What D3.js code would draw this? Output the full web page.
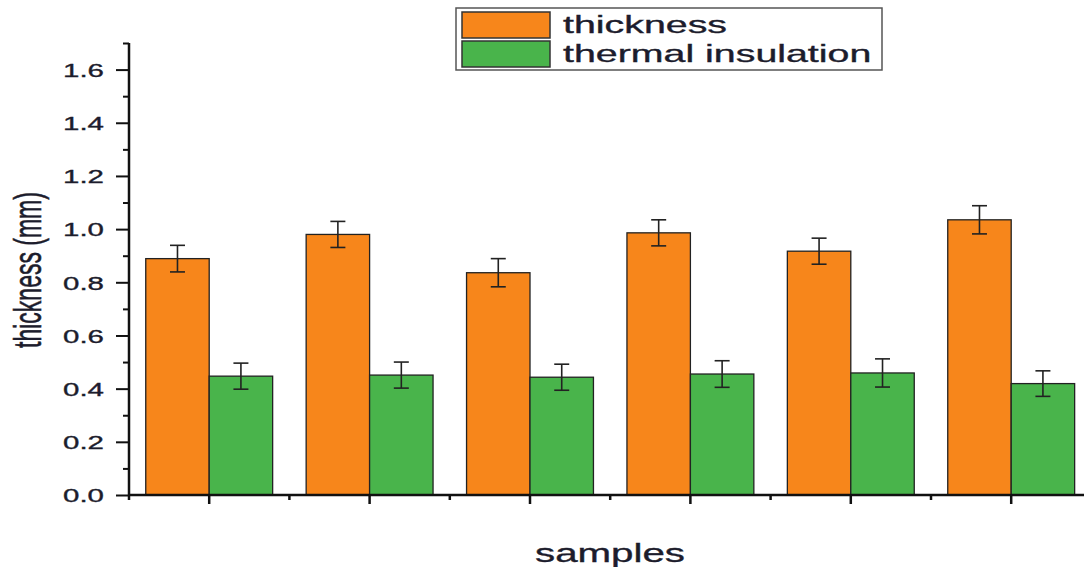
<!DOCTYPE html>
<html>
<head>
<meta charset="utf-8">
<script src="https://cdn.jsdelivr.net/npm/d3@7"></script>
<style>
  body { margin: 0; background: #fff; }
  text { font-family: "Liberation Sans", Arial, sans-serif; stroke: #1c1c2c; stroke-width: 0.35px; }
</style>
</head>
<body>
<div id="chart"></div>
<script>
// values
const samples = ["S1", "S2", "S3", "S4", "S5", "S6"];
const series = ["thickness", "thermal insulation"];
const thickness = [0.889, 0.980, 0.836, 0.986, 0.917, 1.035];
const thicknessErr = [0.050, 0.049, 0.053, 0.049, 0.049, 0.053];
const insulation = [0.447, 0.451, 0.443, 0.455, 0.459, 0.419];
const insulationErr = [0.049, 0.049, 0.049, 0.050, 0.053, 0.048];
const yMajor = [0, 0.2, 0.4, 0.6, 0.8, 1.0, 1.2, 1.4, 1.6];
const yMinor = [0.1, 0.3, 0.5, 0.7, 0.9, 1.1, 1.3, 1.5, 1.7];

const width = 1084, height = 567;
const margins = { top: 43, bottom: 72, left: 129, right: 0 };
const sx = 1.6; // the picture is stretched sideways
const colors = ["#f7861b", "#49b44b"];
const ink = "#1c1c2c";

const svg = d3.select("#chart").append("svg")
  .attr("width", width)
  .attr("height", height);

const yScale = d3.scaleLinear()
  .domain([0, 1.7])
  .range([height - margins.bottom, margins.top]);

const xScale = d3.scaleBand()
  .domain(samples)
  .range([margins.left, margins.left + 6 * 160.4])
  .paddingInner(0);

const inner = d3.scaleBand()
  .domain(series)
  .range([0, xScale.bandwidth()])
  .paddingInner(0)
  .paddingOuter(0.264);

const colorScale = d3.scaleOrdinal().domain(series).range(colors);

const rows = [];
samples.forEach((s, i) => {
  rows.push({ sample: s, key: series[0], v: thickness[i], e: thicknessErr[i] });
  rows.push({ sample: s, key: series[1], v: insulation[i], e: insulationErr[i] });
});

// bars
svg.append("g")
  .selectAll("rect")
  .data(rows)
  .join("rect")
  .attr("x", d => xScale(d.sample) + inner(d.key))
  .attr("y", d => yScale(d.v))
  .attr("width", inner.bandwidth())
  .attr("height", d => yScale(0) - yScale(d.v))
  .attr("fill", d => colorScale(d.key))
  .attr("stroke", "#222")
  .attr("stroke-width", 1.3);

// error bars
const err = svg.append("g")
  .attr("stroke", "#222")
  .attr("stroke-width", 1.6)
  .selectAll("g")
  .data(rows)
  .join("g")
  .attr("transform", d => `translate(${xScale(d.sample) + inner(d.key) + inner.bandwidth() / 2},0)`);

err.append("line")
  .attr("y1", d => yScale(d.v + d.e))
  .attr("y2", d => yScale(d.v - d.e));
err.append("line")
  .attr("x1", -7.5).attr("x2", 7.5)
  .attr("y1", d => yScale(d.v + d.e))
  .attr("y2", d => yScale(d.v + d.e));
err.append("line")
  .attr("x1", -7.5).attr("x2", 7.5)
  .attr("y1", d => yScale(d.v - d.e))
  .attr("y2", d => yScale(d.v - d.e));

// y axis
const yAxis = svg.append("g")
  .attr("transform", `translate(${margins.left},0)`)
  .call(d3.axisLeft(yScale).tickValues(yMajor).tickSize(13).tickFormat(d3.format(".1f")));
yAxis.select(".domain").remove();
yAxis.selectAll("line").attr("stroke", "#111").attr("stroke-width", 2);
yAxis.selectAll("text")
  .attr("x", 0)
  .attr("dy", "0.36em")
  .attr("transform", `translate(-25,0) scale(${sx - 0.05},1)`)
  .attr("font-size", 19)
  .attr("font-family", "Liberation Sans, Arial, sans-serif")
  .attr("fill", ink);

const yMinorAxis = svg.append("g")
  .attr("transform", `translate(${margins.left},0)`)
  .call(d3.axisLeft(yScale).tickValues(yMinor).tickSize(6).tickFormat(""));
yMinorAxis.select(".domain").remove();
yMinorAxis.selectAll("line").attr("stroke", "#111").attr("stroke-width", 2);

svg.append("line")
  .attr("x1", margins.left).attr("x2", margins.left)
  .attr("y1", margins.top).attr("y2", yScale(0) + 1)
  .attr("stroke", "#111").attr("stroke-width", 2.5);

// x axis
const xAxis = svg.append("g")
  .attr("transform", `translate(0,${yScale(0)})`)
  .call(d3.axisBottom(xScale).tickSize(9).tickFormat(""));
xAxis.select(".domain").remove();
xAxis.selectAll("line").attr("stroke", "#111").attr("stroke-width", 2.5);

const bounds = samples.map(s => xScale(s));
svg.append("g")
  .selectAll("line")
  .data(bounds)
  .join("line")
  .attr("x1", d => d).attr("x2", d => d)
  .attr("y1", yScale(0)).attr("y2", yScale(0) + 5)
  .attr("stroke", "#111").attr("stroke-width", 2.5);

svg.append("line")
  .attr("x1", margins.left - 1).attr("x2", width)
  .attr("y1", yScale(0)).attr("y2", yScale(0))
  .attr("stroke", "#111").attr("stroke-width", 2.5);

// axis titles
svg.append("text")
  .attr("transform", `translate(610,562) scale(${sx - 0.05},1)`)
  .attr("text-anchor", "middle")
  .attr("font-size", 26)
  .attr("fill", ink)
  .text("samples");

svg.append("text")
  .attr("transform", `translate(41,270) scale(${sx + 0.05},1) rotate(-90)`)
  .attr("text-anchor", "middle")
  .attr("font-size", 23)
  .attr("fill", ink)
  .text("thickness (mm)");

// legend
const legend = svg.append("g");
legend.append("rect")
  .attr("x", 456).attr("y", 8)
  .attr("width", 426).attr("height", 62)
  .attr("fill", "#fff")
  .attr("stroke", "#555")
  .attr("stroke-width", 1.5);

const item = legend.selectAll("g")
  .data(series)
  .join("g")
  .attr("transform", (d, i) => `translate(462,${12 + i * 29})`);

item.append("rect")
  .attr("width", 88).attr("height", 26)
  .attr("fill", d => colorScale(d))
  .attr("stroke", "#333")
  .attr("stroke-width", 1.5);

item.append("text")
  .attr("transform", `translate(101,20.5) scale(1.64,1)`)
  .attr("font-size", 24)
  .attr("fill", ink)
  .text(d => d);
</script>
</body>
</html>
